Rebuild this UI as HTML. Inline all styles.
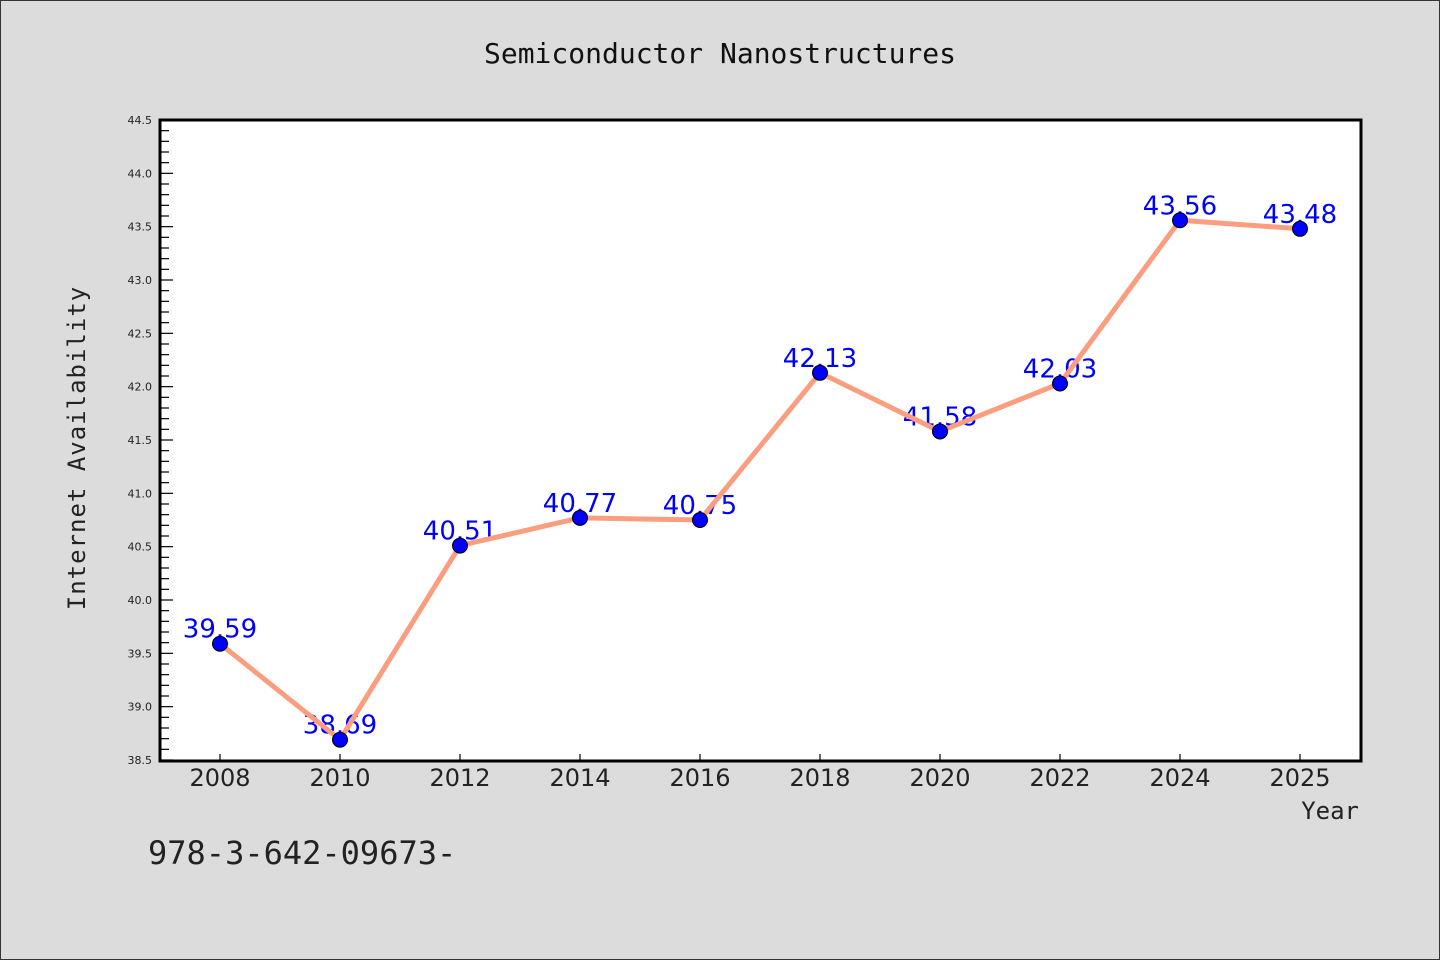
<!DOCTYPE html>
<html><head><meta charset="utf-8"><style>
body{margin:0;background:#dcdcdc}
svg{display:block}
</style></head><body>
<svg id="chart" width="1440" height="960" xmlns="http://www.w3.org/2000/svg">
<rect x="0.5" y="0.5" width="1439" height="959" fill="#dcdcdc" stroke="#333"/>
<text x="720" y="63" text-anchor="middle" font-family="DejaVu Sans Mono, monospace" font-size="28" fill="#111">Semiconductor Nanostructures</text>
<rect x="160" y="120" width="1201" height="641" fill="#fff"/>
<g id="yaxis"></g>
<g id="xaxis"></g>
<g id="labels"></g>
<g id="series"></g>
<rect x="160" y="120" width="1201" height="641" fill="none" stroke="#000" stroke-width="3"/>
<text transform="translate(85,448) rotate(-90)" text-anchor="middle" font-family="DejaVu Sans Mono, monospace" font-size="24" fill="#222" letter-spacing="1">Internet Availability</text>
<text x="1359" y="819" text-anchor="end" font-family="DejaVu Sans Mono, monospace" font-size="24" fill="#222">Year</text>
<text x="148" y="864" font-family="DejaVu Sans Mono, monospace" font-size="32" fill="#222">978-3-642-09673-</text>
</svg>
<script>
const categories = ["2008","2010","2012","2014","2016","2018","2020","2022","2024","2025"];
const values = [39.59,38.69,40.51,40.77,40.75,42.13,41.58,42.03,43.56,43.48];
const valueLabels = ["39.59","38.69","40.51","40.77","40.75","42.13","41.58","42.03","43.56","43.48"];
const yTickLabels = ["38.5","39.0","39.5","40.0","40.5","41.0","41.5","42.0","42.5","43.0","43.5","44.0","44.5"];
const yMin = 38.5, yMax = 44.5;
const NS = "http://www.w3.org/2000/svg";
const L = 160, T = 120, R = 1361, B = 760;
function x(i){ return L + 60 + i * 120; }
function y(v){ return B - (v - yMin) / (yMax - yMin) * (B - T); }
function mk(tag, attrs, parent){ const e = document.createElementNS(NS, tag); for (const k in attrs) e.setAttribute(k, attrs[k]); parent.appendChild(e); return e; }
const ya = document.getElementById('yaxis');
for (let v = 0; v <= 60; v++) {
  const val = yMin + v * 0.1;
  const major = v % 5 === 0;
  const t = mk('line', {x1: L, x2: L + (major ? 13 : 9), y1: y(val), y2: y(val), stroke: '#000', 'stroke-width': 1.2}, ya);
  
  
}
yTickLabels.forEach(s => {
  const t = mk('text', {x: 152, y: y(parseFloat(s)) + 4, 'text-anchor': 'end', 'font-family': 'DejaVu Sans, sans-serif', 'font-size': 11, fill: '#222'}, ya);
  t.textContent = s;
  
  
});
const xa = document.getElementById('xaxis');
categories.forEach((c, i) => {
  const tk = mk('line', {x1: x(i), x2: x(i), y1: B, y2: B - 6, stroke: '#000', 'stroke-width': 1.2}, xa);
  
  
  const t = mk('text', {x: x(i), y: 786, 'text-anchor': 'middle', 'font-family': 'DejaVu Sans, sans-serif', 'font-size': 24, fill: '#222'}, xa);
  t.textContent = c;
  
  
});
const lb = document.getElementById('labels');
values.forEach((v, i) => {
  const t = mk('text', {x: x(i), y: y(v) - 6, 'text-anchor': 'middle', 'font-family': 'DejaVu Sans, sans-serif', 'font-size': 26, fill: '#0000ff'}, lb);
  t.textContent = valueLabels[i];
  
  
});
const sr = document.getElementById('series');
const ln = mk('polyline', {points: values.map((v, i) => x(i) + ',' + y(v)).join(' '), fill: 'none', stroke: '#fa9e7f', 'stroke-width': 5, 'stroke-linejoin': 'round'}, sr);


values.forEach((v, i) => {
  const c = mk('circle', {cx: x(i), cy: y(v), r: 7.5, fill: '#0000ff', stroke: '#000', 'stroke-width': 1}, sr);
  
  
});
</script>
</body></html>
